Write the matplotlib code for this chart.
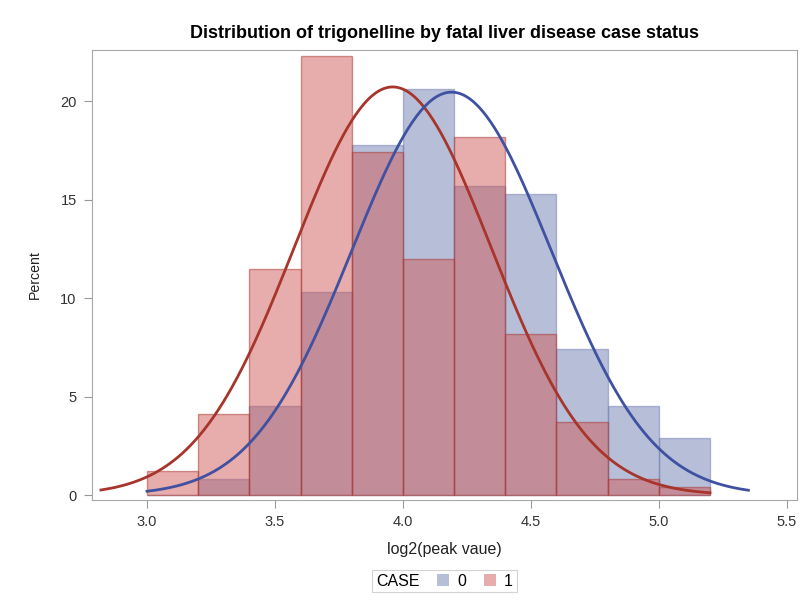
import numpy as np
import matplotlib.pyplot as plt
from matplotlib.patches import Rectangle

plt.rcParams['font.family'] = ['Liberation Sans', 'DejaVu Sans']

# histogram bins of log2(peak value), width 0.2
bin_edges = [3.0, 3.2, 3.4, 3.6, 3.8, 4.0, 4.2, 4.4, 4.6, 4.8, 5.0, 5.2]
pct_case0 = [0.0, 0.8, 4.5, 10.3, 17.8, 20.6, 15.7, 15.3, 7.4, 4.5, 2.9]
pct_case1 = [1.2, 4.1, 11.5, 22.3, 17.4, 12.0, 18.2, 8.2, 3.7, 0.8, 0.4]

# fitted normal parameters (mean, std) and curve range per group
norm_case0 = (4.19, 0.39)
norm_case1 = (3.96, 0.385)
range_case0 = (3.0, 5.35)
range_case1 = (2.82, 5.2)

blue_fill = '#6f7eb3'
red_fill = '#d05b5b'
blue_line = '#3f51a0'
red_line = '#a8352b'

fig = plt.figure(figsize=(8.04, 6.05), dpi=100)
ax = fig.add_axes([92 / 804, 1 - 500 / 605, 705 / 804, 450 / 605])

edges = np.array(bin_edges)
widths = np.diff(edges)
ax.bar(edges[:-1], pct_case0, width=widths, align='edge', color=blue_fill,
       alpha=0.5, edgecolor=blue_fill, linewidth=1)
ax.bar(edges[:-1], pct_case1, width=widths, align='edge', color=red_fill,
       alpha=0.5, edgecolor='#a8352b', linewidth=1)


def normal_pct(x, mu, sd, bw):
    return 100 * bw * np.exp(-0.5 * ((x - mu) / sd) ** 2) / (sd * np.sqrt(2 * np.pi))


x0 = np.linspace(range_case0[0], range_case0[1], 300)
x1 = np.linspace(range_case1[0], range_case1[1], 300)
ax.plot(x1, normal_pct(x1, norm_case1[0], norm_case1[1], 0.2), color=red_line, lw=2)
ax.plot(x0, normal_pct(x0, norm_case0[0], norm_case0[1], 0.2), color=blue_line, lw=2)

ax.set_xlim(2.785, 5.54)
ax.set_ylim(-0.25, 22.6)
ax.set_xticks([3.0, 3.5, 4.0, 4.5, 5.0, 5.5])
ax.set_xticklabels(['3.0', '3.5', '4.0', '4.5', '5.0', '5.5'])
ax.set_yticks([0, 5, 10, 15, 20])
ax.tick_params(colors='#9a9a9a', labelcolor='#333333', labelsize=10.5, length=6, pad=5)
for s in ax.spines.values():
    s.set_color('#a8a8a8')

ax.set_xlabel('log2(peak vaue)', fontsize=11.5, color='#222222', labelpad=9)
ax.set_ylabel('Percent', fontsize=10.2, color='#222222', labelpad=13)
ax.set_title('Distribution of trigonelline by fatal liver disease case status',
             fontsize=13, fontweight='bold', pad=9)

# legend: "CASE" label inline, then the two group swatches
blank = Rectangle((0, 0), 1, 1, visible=False)
h0 = Rectangle((0, 0), 1, 1, facecolor=blue_fill, alpha=0.5, edgecolor='none')
h1 = Rectangle((0, 0), 1, 1, facecolor=red_fill, alpha=0.5, edgecolor='none')
leg = fig.legend([blank, h0, h1], ['CASE', '0', '1'], ncol=3,
                 loc='center', bbox_to_anchor=(444.5 / 804, 1 - 581 / 605),
                 fontsize=11.5, handlelength=0.75, handleheight=0.75,
                 handletextpad=0.5, columnspacing=1.1, borderpad=0.25,
                 fancybox=False, edgecolor='#c8c8c8')
leg.get_frame().set_linewidth(0.8)
# drop the empty handle slot in front of "CASE"
first = leg._legend_handle_box.get_children()[0].get_children()[0]
first.sep = 0
first.get_children()[0].width = 0

fig.savefig('out.png', dpi=100)
